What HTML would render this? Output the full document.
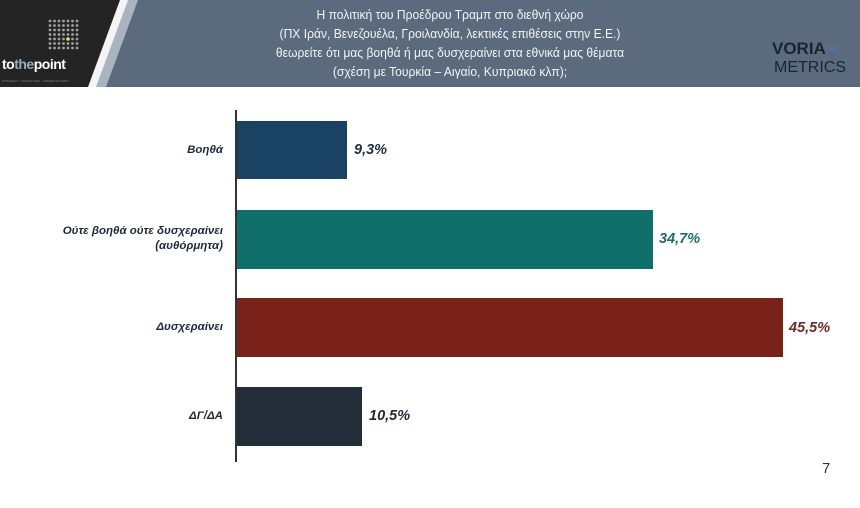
<!DOCTYPE html>
<html><head><meta charset="utf-8"><style>
body{margin:0;width:860px;height:508px;background:#fff;position:relative;overflow:hidden;font-family:"Liberation Sans","DejaVu Sans",sans-serif}
.a{position:absolute}
.lbl{position:absolute;right:637px;text-align:right;font-style:italic;font-weight:bold;font-size:11.5px;color:#1e2a3a;line-height:15px}
.val{position:absolute;font-style:italic;font-weight:bold;font-size:14.5px}
</style></head><body>
<svg class="a" style="left:0;top:0" width="860" height="88">
<rect width="860" height="87" fill="#5b6b7d"/>
<polygon points="125,0 138,0 106,87 93,87" fill="#aab4c0"/>
<polygon points="118,0 128,0 96,87 86,87" fill="#f4f4f4"/>
<polygon points="0,0 120,0 88,87 0,87" fill="#242424"/>
</svg>
<svg class="a" style="top:19px;left:48px" width="36" height="36">
<g fill="#a0a0a0">
<circle cx="2" cy="2" r="1.4"/><circle cx="6.5" cy="2" r="1.4"/><circle cx="11" cy="2" r="1.4"/><circle cx="15.5" cy="2" r="1.4"/><circle cx="20" cy="2" r="1.4"/><circle cx="24.5" cy="2" r="1.4"/><circle cx="29" cy="2" r="1.4"/>
<circle cx="2" cy="6.5" r="1.4"/><circle cx="6.5" cy="6.5" r="1.4"/><circle cx="11" cy="6.5" r="1.4"/><circle cx="15.5" cy="6.5" r="1.4"/><circle cx="20" cy="6.5" r="1.4"/><circle cx="24.5" cy="6.5" r="1.4"/><circle cx="29" cy="6.5" r="1.4"/>
<circle cx="2" cy="11" r="1.4"/><circle cx="6.5" cy="11" r="1.4"/><circle cx="11" cy="11" r="1.4"/><circle cx="15.5" cy="11" r="1.4"/><circle cx="20" cy="11" r="1.4"/><circle cx="24.5" cy="11" r="1.4"/><circle cx="29" cy="11" r="1.4"/>
<circle cx="2" cy="15.5" r="1.4"/><circle cx="6.5" cy="15.5" r="1.4"/><circle cx="11" cy="15.5" r="1.4"/><circle cx="15.5" cy="15.5" r="1.4"/><circle cx="20" cy="15.5" r="1.4"/><circle cx="24.5" cy="15.5" r="1.4"/><circle cx="29" cy="15.5" r="1.4"/>
<circle cx="2" cy="20" r="1.4"/><circle cx="6.5" cy="20" r="1.4"/><circle cx="11" cy="20" r="1.4"/><circle cx="15.5" cy="20" r="1.4"/><circle cx="24.5" cy="20" r="1.4"/><circle cx="29" cy="20" r="1.4"/>
<circle cx="2" cy="24.5" r="1.4"/><circle cx="6.5" cy="24.5" r="1.4"/><circle cx="11" cy="24.5" r="1.4"/><circle cx="15.5" cy="24.5" r="1.4"/><circle cx="20" cy="24.5" r="1.4"/><circle cx="24.5" cy="24.5" r="1.4"/><circle cx="29" cy="24.5" r="1.4"/>
<circle cx="2" cy="29" r="1.4"/><circle cx="6.5" cy="29" r="1.4"/><circle cx="11" cy="29" r="1.4"/><circle cx="15.5" cy="29" r="1.4"/><circle cx="20" cy="29" r="1.4"/><circle cx="24.5" cy="29" r="1.4"/><circle cx="29" cy="29" r="1.4"/>
</g><circle cx="20" cy="20" r="1.8" fill="#d4f040"/></svg>
<div class="a" style="left:2px;top:56px;font-size:14px;font-weight:bold;color:#fff;letter-spacing:-0.5px">to<span style="color:#9ab">the</span>point</div>
<div class="a" style="left:2px;top:79px;font-size:3px;color:#888">STRATEGY · CONSULTING · COMMUNICATION</div>
<div class="a" style="left:240px;top:5px;width:420px;text-align:center;color:#f2f4f6;font-size:13px;line-height:19px;transform:scaleX(0.93);transform-origin:center">Η πολιτική του Προέδρου Τραμπ στο διεθνή χώρο<br>(ΠΧ Ιράν, Βενεζουέλα, Γροιλανδία, λεκτικές επιθέσεις στην Ε.Ε.)<br>θεωρείτε ότι μας βοηθά ή μας δυσχεραίνει στα εθνικά μας θέματα<br>(σχέση με Τουρκία – Αιγαίο, Κυπριακό κλπ);</div>
<div class="a" style="left:772px;top:40px;font-size:17px;font-weight:bold;color:#1a2430;line-height:18px">VORIA<span style="font-size:8px;color:#4a7ab0;vertical-align:top">GR</span></div>
<div class="a" style="left:774px;top:59px;font-size:16px;color:#1a2430;line-height:18px">METRICS</div>
<div class="a" style="left:235px;top:110px;width:2px;height:352px;background:#333"></div>
<div class="a" style="left:237px;top:121px;width:110px;height:58px;background:#1a4263"></div>
<div class="a" style="left:237px;top:210px;width:416px;height:59px;background:#106f6a"></div>
<div class="a" style="left:237px;top:298px;width:546px;height:59px;background:#7a221a"></div>
<div class="a" style="left:237px;top:387px;width:125px;height:59px;background:#232d3a"></div>
<div class="lbl" style="top:143px">Βοηθά</div>
<div class="lbl" style="top:224px">Ούτε βοηθά ούτε δυσχεραίνει<br>(αυθόρμητα)</div>
<div class="lbl" style="top:320px">Δυσχεραίνει</div>
<div class="lbl" style="top:409px">ΔΓ/ΔΑ</div>
<div class="val" style="left:354px;top:142px;color:#1e3048">9,3%</div>
<div class="val" style="left:659px;top:231px;color:#1f6e6a">34,7%</div>
<div class="val" style="left:789px;top:320px;color:#6f2a24">45,5%</div>
<div class="val" style="left:369px;top:408px;color:#1e2a3a">10,5%</div>
<div class="a" style="left:822px;top:460px;font-size:15px;color:#333">7</div>
</body></html>
